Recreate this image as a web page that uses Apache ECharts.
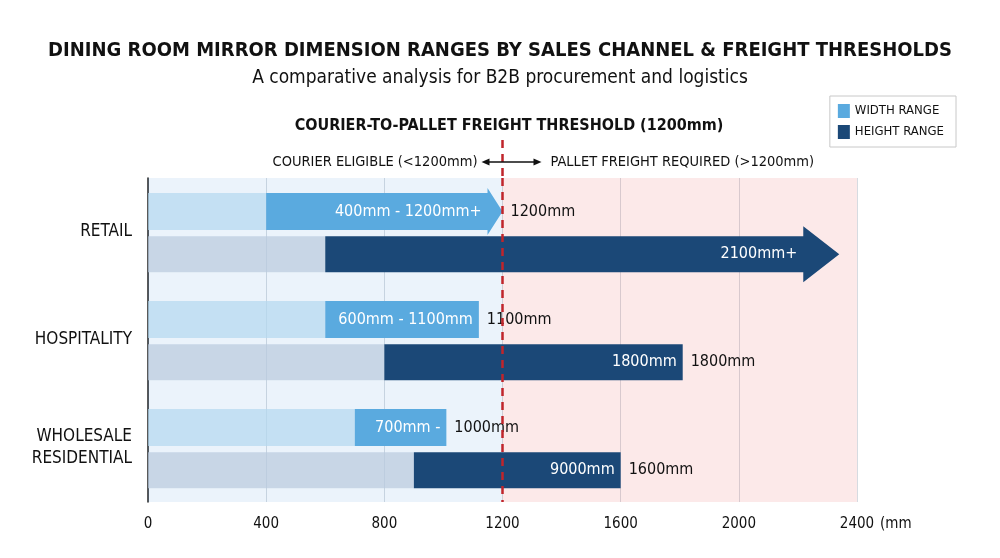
<!DOCTYPE html>
<html>
<head>
<meta charset="utf-8">
<script src="https://cdn.jsdelivr.net/npm/echarts@6/dist/echarts.min.js"></script>
<style>
  html, body { margin: 0; padding: 0; background: #fff; }
  #chart { width: 1000px; height: 558px; }
</style>
</head>
<body>
<div id="chart"></div>
<script>
const FONT = "'DejaVu Sans Condensed', 'Liberation Sans Narrow', sans-serif";

const categories = ["RETAIL", "HOSPITALITY", "WHOLESALE\nRESIDENTIAL"];
const widthMin = [400, 600, 700];
const widthMax = [1200, 1120, 1010];
const heightMin = [600, 800, 900];
const heightMax = [2340, 1810, 1600];
const widthInside = ["400mm - 1200mm+", "600mm - 1100mm", "700mm -"];
const widthOutside = ["1200mm", "1100mm", "1000mm"];
const heightInside = ["2100mm+", "1800mm", "9000mm"];
const heightOutside = ["", "1800mm", "1600mm"];
const openEnded = [true, false, false]; // retail ranges drawn as arrows
const threshold = 1200;

const WIDTH_COLOR = "#5aaadf";
const HEIGHT_COLOR = "#1b4877";

// one renderer for both rows, offset picks the upper/lower slot in the band
function rangeRenderer(opts) {
  return function (params, api) {
    const idx = api.value(0);
    const start = api.value(1);
    const end = api.value(2);
    const band = api.size([0, 1])[1];
    const zero = api.coord([0, idx]);
    const p0 = api.coord([start, idx]);
    const p1 = api.coord([end, idx]);
    const cy = zero[1] + opts.offset * band;
    const h = opts.barH;
    const y0 = cy - h / 2;
    const children = [];
    children.push({
      type: "rect",
      shape: { x: zero[0], y: y0, width: p0[0] - zero[0], height: h },
      style: { fill: opts.fade }
    });
    let bodyEnd = p1[0];
    if (openEnded[idx]) {
      bodyEnd = p1[0] - opts.head;
      children.push({
        type: "polygon",
        shape: {
          points: [
            [p0[0], y0], [bodyEnd, y0], [bodyEnd, y0 - opts.flare],
            [p1[0], cy], [bodyEnd, y0 + h + opts.flare], [bodyEnd, y0 + h],
            [p0[0], y0 + h]
          ]
        },
        style: { fill: opts.color }
      });
    } else {
      children.push({
        type: "rect",
        shape: { x: p0[0], y: y0, width: p1[0] - p0[0], height: h },
        style: { fill: opts.color }
      });
    }
    children.push({
      type: "text",
      x: bodyEnd - 6, y: cy,
      style: {
        text: opts.inside[idx], fill: "#fff", font: "16px " + FONT,
        align: "right", verticalAlign: "middle"
      }
    });
    if (opts.outside[idx]) {
      children.push({
        type: "text",
        x: p1[0] + 8, y: cy,
        style: {
          text: opts.outside[idx], fill: "#111", font: "16px " + FONT,
          align: "left", verticalAlign: "middle"
        }
      });
    }
    return { type: "group", children: children };
  };
}

const chart = echarts.init(document.getElementById("chart"));

chart.setOption({
  animation: false,
  title: [
    {
      text: "DINING ROOM MIRROR DIMENSION RANGES BY SALES CHANNEL & FREIGHT THRESHOLDS",
      subtext: "A comparative analysis for B2B procurement and logistics",
      left: "center",
      top: 36,
      itemGap: 8,
      textStyle: { fontFamily: FONT, fontWeight: "bold", fontSize: 20, color: "#111" },
      subtextStyle: { fontFamily: FONT, fontSize: 19, color: "#111" }
    },
    {
      text: "COURIER-TO-PALLET FREIGHT THRESHOLD (1200mm)",
      left: 504,
      textAlign: "center",
      top: 113,
      textStyle: { fontFamily: FONT, fontWeight: "bold", fontSize: 16, color: "#111" }
    }
  ],
  legend: {
    orient: "vertical",
    right: 44,
    top: 96,
    padding: [8, 12, 8, 8],
    itemGap: 7,
    itemWidth: 12,
    itemHeight: 14,
    borderColor: "#c8c8c8",
    borderWidth: 1,
    icon: "rect",
    textStyle: { fontFamily: FONT, fontSize: 13, color: "#111" },
    data: ["WIDTH RANGE", "HEIGHT RANGE"]
  },
  grid: { left: 148, right: 143, top: 178, bottom: 56 },
  xAxis: {
    type: "value",
    min: 0,
    max: 2400,
    interval: 400,
    name: "(mm",
    nameLocation: "end",
    nameGap: 22,
    nameTextStyle: {
      fontFamily: FONT, fontSize: 15, color: "#111",
      verticalAlign: "top", padding: [15, 0, 0, 0]
    },
    axisLine: { lineStyle: { color: "#222", width: 1.5 } },
    axisTick: { show: false },
    axisLabel: {
      fontFamily: FONT, fontSize: 15, color: "#111", margin: 15,
      formatter: (v) => String(v)
    },
    splitLine: { lineStyle: { color: "#d6dbe1" } }
  },
  yAxis: {
    type: "category",
    inverse: true,
    data: categories,
    axisLine: { lineStyle: { color: "#222", width: 1.5 } },
    axisTick: { show: false },
    axisLabel: { fontFamily: FONT, fontSize: 17, color: "#111", margin: 16, lineHeight: 22 },
    splitLine: { show: false }
  },
  series: [
    {
      name: "WIDTH RANGE",
      type: "custom",
      itemStyle: { color: WIDTH_COLOR },
      encode: { x: [1, 2], y: 0 },
      renderItem: rangeRenderer({
        offset: -0.19, barH: 37, head: 15, flare: 5,
        color: WIDTH_COLOR, fade: "rgba(180, 217, 240, 0.7)",
        inside: widthInside, outside: widthOutside
      }),
      data: categories.map((c, i) => [i, widthMin[i], widthMax[i]]),
      markArea: {
        silent: true,
        data: [
          [{ xAxis: 0, itemStyle: { color: "rgba(70, 150, 220, 0.11)" } }, { xAxis: threshold }],
          [{ xAxis: threshold, itemStyle: { color: "rgba(233, 70, 70, 0.12)" } }, { xAxis: 2400 }]
        ]
      },
      z: 3
    },
    {
      name: "HEIGHT RANGE",
      type: "custom",
      itemStyle: { color: HEIGHT_COLOR },
      encode: { x: [1, 2], y: 0 },
      renderItem: rangeRenderer({
        offset: 0.205, barH: 36, head: 36, flare: 10,
        color: HEIGHT_COLOR, fade: "rgba(186, 203, 222, 0.72)",
        inside: heightInside, outside: heightOutside
      }),
      data: categories.map((c, i) => [i, heightMin[i], heightMax[i]]),
      markLine: {
        silent: true,
        symbol: "none",
        label: { show: false },
        lineStyle: { color: "#c0252b", type: [8, 6], width: 2.5 },
        data: [{ xAxis: threshold }]
      },
      z: 4
    }
  ]
});

// threshold annotation above the plot, anchored to the 1200 position
const tx = chart.convertToPixel({ xAxisIndex: 0 }, threshold);
const gridTop = 178;
chart.setOption({
  graphic: [
    {
      type: "line",
      shape: { x1: tx, y1: 140, x2: tx, y2: gridTop },
      style: { stroke: "#c0252b", lineWidth: 2.5, lineDash: [8, 6] }
    },
    {
      type: "text",
      x: tx - 25, y: 162,
      style: {
        text: "COURIER ELIGIBLE (<1200mm)", font: "14.5px " + FONT, fill: "#111",
        align: "right", verticalAlign: "middle"
      }
    },
    {
      type: "text",
      x: tx + 48, y: 162,
      style: {
        text: "PALLET FREIGHT REQUIRED (>1200mm)", font: "14.5px " + FONT, fill: "#111",
        align: "left", verticalAlign: "middle"
      }
    },
    {
      type: "line",
      shape: { x1: tx - 18, y1: 162, x2: tx + 36, y2: 162 },
      style: { stroke: "#111", lineWidth: 1.5 }
    },
    {
      type: "polygon",
      shape: { points: [[tx - 21, 162], [tx - 13, 158.5], [tx - 13, 165.5]] },
      style: { fill: "#111" }
    },
    {
      type: "polygon",
      shape: { points: [[tx + 39, 162], [tx + 31, 158.5], [tx + 31, 165.5]] },
      style: { fill: "#111" }
    }
  ]
});
</script>
</body>
</html>
